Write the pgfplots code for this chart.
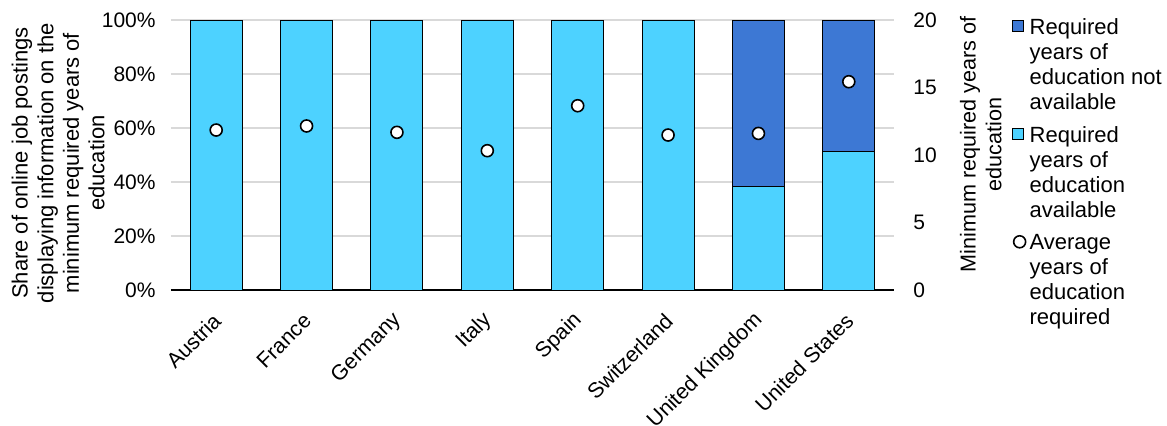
\documentclass[border=0pt]{standalone}
\usepackage{pgfplots}
\pgfplotsset{compat=1.18}
\usepackage{fontspec}
\setmainfont{Liberation Sans}
\definecolor{lightb}{RGB}{77,210,255}
\definecolor{darkb}{RGB}{61,120,212}
\definecolor{gridc}{RGB}{217,217,217}
\newcommand{\ff}{\fontsize{10.5}{12.5}\selectfont}
\newcommand{\fl}{\fontsize{11}{12.8}\selectfont}
\newcommand{\fg}{\fontsize{11}{12.5}\selectfont}
\pgfplotsset{
  sqlegend/.style={legend image code/.code={\path[draw=none,fill=none] (0pt,-22.5pt) -- (0pt,22.5pt);\draw[##1] (0pt,17pt) rectangle (5.5pt,22.5pt);}},
  circlegend/.style={legend image code/.code={\path[draw=none,fill=none] (0pt,-22.5pt) -- (0pt,22.5pt);\draw[##1] plot coordinates {(3.5pt,19.75pt)};}},
}
\begin{document}
\ff
\begin{tikzpicture}
\useasboundingbox (-85.5pt,-67.5pt) rectangle (498pt,145pt);
\begin{axis}[
  at={(0,0)}, anchor=south west,
  scale only axis, width=361.5pt, height=135pt,
  xmin=-0.5, xmax=7.5, ymin=0, ymax=100,
  ybar stacked, bar width=26pt,
  axis lines*=left,
  y axis line style={draw=none},
  x axis line style={black, line width=0.8pt, -},
  ymajorgrids, grid style={gridc, line width=0.6pt},
  ytick={0,20,...,100},
  yticklabel={\pgfmathprintnumber{\tick}\%},
  xtick=data,
  xticklabels={Austria,France,Germany,Italy,Spain,Switzerland,United Kingdom,United States},
  major tick length=0pt,
  /pgf/number format/assume math mode=true,
  tick label style={font=\ff},
  xticklabel style={xshift=3pt, yshift=-11pt, rotate=45, anchor=east, font=\fontsize{10.7}{12.5}\selectfont},
  yticklabel style={xshift=-4pt},
  ylabel={Share of online job postings\\displaying information on the\\minimum required years of\\education},
  ylabel style={at={(axis description cs:-0.156,0.47)}, anchor=center, align=center, font=\fl},
]
\addplot[fill=lightb, draw=black, line width=0.5pt] coordinates {(0,100) (1,100) (2,100) (3,100) (4,100) (5,100) (6,38.5) (7,51.2)};
\addplot[fill=darkb, draw=black, line width=0.5pt] coordinates {(0,0) (1,0) (2,0) (3,0) (4,0) (5,0) (6,61.5) (7,48.8)};
\end{axis}
\begin{axis}[
  at={(0,0)}, anchor=south west,
  scale only axis, width=361.5pt, height=135pt,
  xmin=-0.5, xmax=7.5, ymin=0, ymax=20,
  axis y line*=right, axis x line=none,
  y axis line style={draw=none},
  ytick={0,5,...,20},
  major tick length=0pt,
  /pgf/number format/assume math mode=true,
  tick label style={font=\ff},
  yticklabel style={xshift=6pt},
  ylabel={Minimum required years of\\education},
  ylabel style={at={(axis description cs:1.12,0.54)}, anchor=center, align=center, rotate=0, font=\fontsize{10.8}{12.8}\selectfont},
  legend style={at={(axis description cs:1.163,1.022)}, anchor=north west, draw=none, fill=none, inner sep=0pt, row sep=3pt,
    cells={anchor=west, align=left, inner xsep=0pt}, font=\fg},
  legend cell align=left,
]
\addlegendimage{area legend, fill=darkb, draw=black, sqlegend}
\addlegendentry{Required\\years of\\education not\\available}
\addlegendimage{area legend, fill=lightb, draw=black, sqlegend}
\addlegendentry{Required\\years of\\education\\available}
\addplot[only marks, mark=*, mark size=3pt, mark options={fill=white, draw=black, line width=0.8pt}, circlegend] coordinates {(0,11.85) (1,12.15) (2,11.68) (3,10.32) (4,13.65) (5,11.48) (6,11.6) (7,15.43)};
\addlegendentry{Average\\years of\\education\\required}
\end{axis}
\end{tikzpicture}
\end{document}
